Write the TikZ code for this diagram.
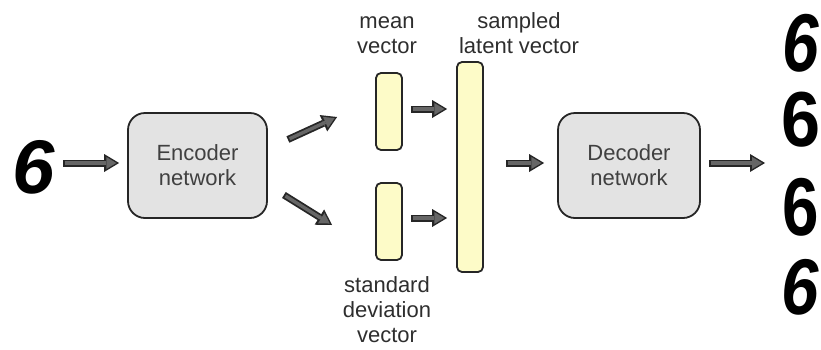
\documentclass[tikz,border=0pt]{standalone}
\usepackage{fontspec}
\setmainfont{Liberation Sans}
\usetikzlibrary{arrows.meta,calc}
\definecolor{vecyellow}{RGB}{253,251,200}

\begin{document}
\begin{tikzpicture}[x=1pt,y=-1pt]
	\tikzset{
		net/.style={draw=black!85,line width=1.8pt,fill=black!11,rounded corners=17pt,minimum width=139pt,minimum height=105pt,align=center,text=black!75,font=\fontsize{22}{25}\selectfont},
		vec/.style={draw=black!85,line width=1.8pt,fill=vecyellow,rounded corners=5pt,minimum width=26pt,inner sep=0pt},
		lbl/.style={align=center,inner sep=0pt,text=black!82,font=\fontsize{22}{25}\selectfont},
		digit/.style={inner sep=0pt,font=\fontsize{#1}{#1}\selectfont\bfseries},
		fat/.style={line width=7pt,draw=black!85,-{Triangle[length=15pt,width=18pt,line width=0pt]},
			postaction={draw=black!60,line width=3.4pt,-{Triangle[length=10pt,width=12pt,line width=0pt]},shorten >=2.8pt,shorten <=1.8pt}}
	}
	\useasboundingbox (0,0) rectangle (821,349);
	\path
	(34,167) node[digit=76](in6){\itshape 6}
	(197.5,165.5) node[net](enc){Encoder\\network}
	(389,111.5) node[vec,minimum height=77pt](mean){}
	(389,221.5) node[vec,minimum height=77pt](std){}
	(470,167) node[vec,minimum height=210pt](latent){}
	(629,165.5) node[net,minimum width=142pt](dec){Decoder\\network}
	(387,54) node[lbl,anchor=south](meanlbl){mean\\vector}
	(519,54) node[lbl,anchor=south](latentlbl){sampled\\latent vector}
	(387,343) node[lbl,anchor=south](stdlbl){standard\\deviation\\vector}
	(801,43) node[digit=82,xscale=.8](out1){\itshape 6}
	(801,120) node[digit=78,xscale=.9](out2){6}
	(801,207) node[digit=82,xscale=.8](out3){6}
	(800,287) node[digit=79,xscale=.85](out4){\itshape 6}
	(765,163) coordinate(outs)
	;
	\draw[fat] ([shift={(8,-4)}]in6.east) -- ([shift={(-8,-2.5)}]enc.west);
	\draw[fat] ([shift={(20,-26)}]enc.east) -- ([shift={(-38,5.5)}]mean.west);
	\draw[fat] ([shift={(16,29.5)}]enc.east) -- ([shift={(-43,3.5)}]std.west);
	\draw[fat] ($(mean.east)+(8,-2.5)$) -- ($(latent.west |- mean.east)+(-9,-2.5)$);
	\draw[fat] ($(std.east)+(8,-3.5)$) -- ($(latent.west |- std.east)+(-9,-3.5)$);
	\draw[fat] ($(latent.east)+(22,-4)$) -- ($(dec.west)+(-13,-2.5)$);
	\draw[fat] ($(dec.east)+(8,-2.5)$) -- (outs);
\end{tikzpicture}
\end{document}
